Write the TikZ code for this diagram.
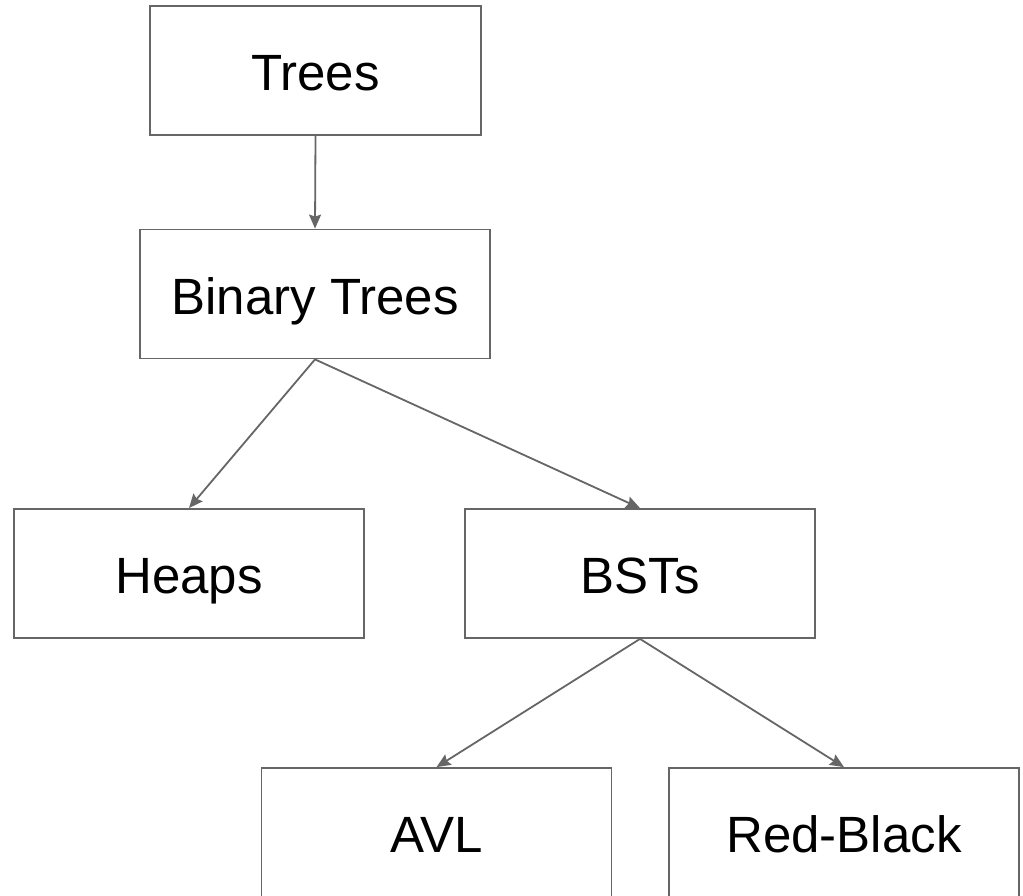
\documentclass[tikz,border=0pt]{standalone}
\usepackage{fontspec}
\setmainfont{Liberation Sans}
\usetikzlibrary{arrows.meta}
\definecolor{edgegray}{HTML}{666666}
\tikzset{
  box/.style={draw=edgegray, line width=1.8pt, fill=white, minimum height=129pt, inner sep=0pt,
    text height=40pt, text depth=0pt,
    font=\fontsize{51}{60}\selectfont, text=black},
  wide/.style={box, minimum width=350pt},
  conn/.style={draw=edgegray, line width=1.8pt, -{Stealth[length=14pt,width=12pt,inset=2pt]}}
}
\begin{document}
\begin{tikzpicture}[x=1pt,y=-1pt]
\useasboundingbox (0,0) rectangle (1023,896);
\node[box, minimum width=331pt] (trees) at (315.5,70.5) {Trees};
\node[wide] (bin) at (315,294) {Binary Trees};
\node[wide] (heaps) at (189,573.5) {Heaps};
\node[wide] (bst) at (640,573.5) {BSTs};
\node[wide] (avl) at (436.5,832.5) {AVL};
\node[wide] (rb) at (844,832.5) {Red-Black};
\draw[conn] (trees.south) -- (bin.north);
\draw[conn] (bin.south) -- (heaps.north);
\draw[conn] (bin.south) -- (bst.north);
\draw[conn] (bst.south) -- (avl.north);
\draw[conn] (bst.south) -- (rb.north);
\end{tikzpicture}
\end{document}
